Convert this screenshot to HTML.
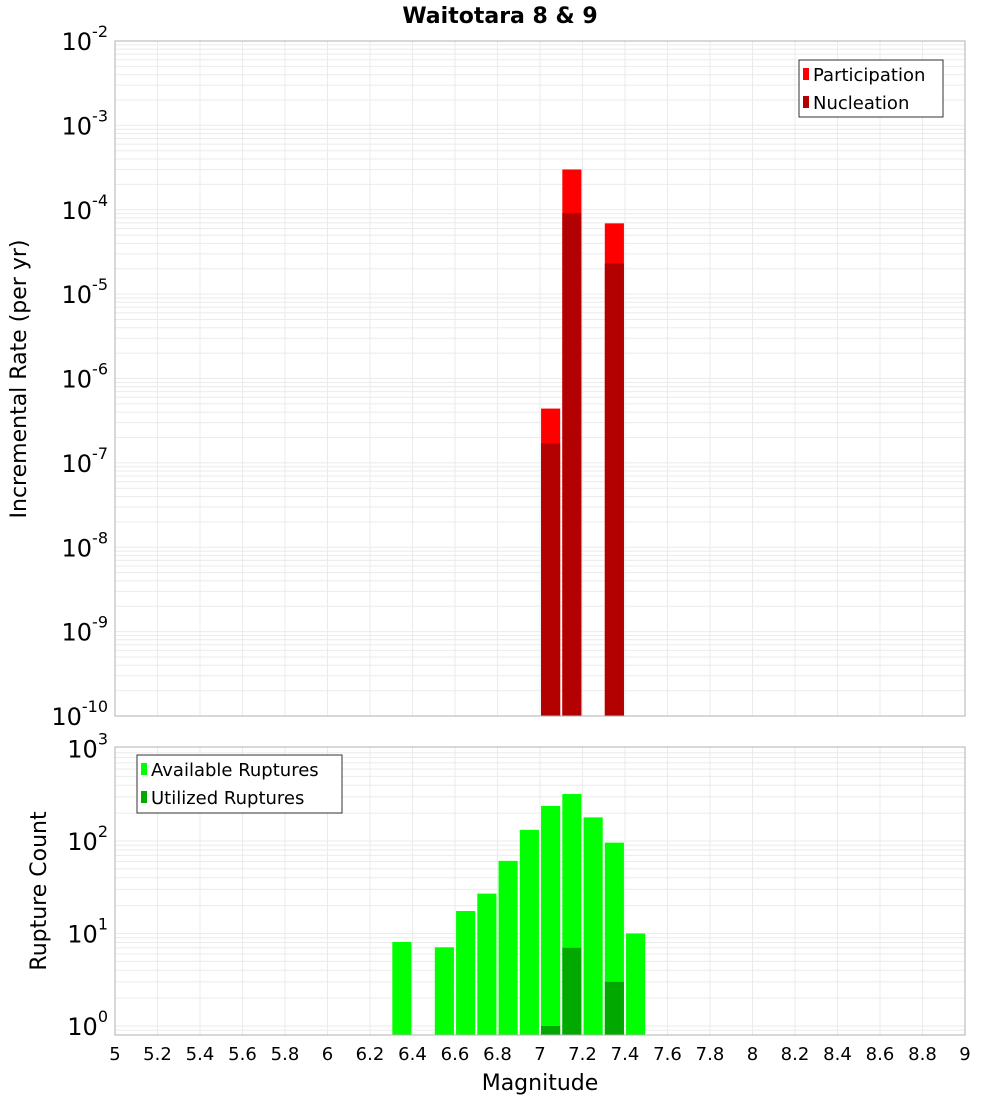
<!DOCTYPE html>
<html><head><meta charset="utf-8"><style>
body{margin:0;background:#fff;}
svg text{font-family:"DejaVu Sans","Liberation Sans",sans-serif;}
</style></head><body>
<svg id="chart" width="1000" height="1100" xmlns="http://www.w3.org/2000/svg"></svg>
<script>
const mags = [7.05, 7.15, 7.35];
const participation = [4.4e-7, 3.0e-4, 6.9e-5];
const nucleation = [1.7e-7, 9.1e-5, 2.3e-5];
const countMags = [6.35, 6.55, 6.65, 6.75, 6.85, 6.95, 7.05, 7.15, 7.25, 7.35, 7.45];
const available = [8.1, 7.1, 17.5, 27, 61, 132, 239, 322, 180, 96, 10];
const utilMags = [7.05, 7.15, 7.35];
const utilized = [1, 7, 3];
const xTicks = ["5","5.2","5.4","5.6","5.8","6","6.2","6.4","6.6","6.8","7","7.2","7.4","7.6","7.8","8","8.2","8.4","8.6","8.8","9"];
const topExps = [-2,-3,-4,-5,-6,-7,-8,-9,-10];
const botExps = [3,2,1,0];

const svg = document.getElementById('chart');
const NS = 'http://www.w3.org/2000/svg';
function mk(tag, attrs, parent){const e=document.createElementNS(NS,tag);for(const k in attrs)e.setAttribute(k,attrs[k]);(parent||svg).appendChild(e);return e;}
const L=115,R=965;
const x = m => L + (m-5)/4*(R-L);
const T1=41,B1=716; const yTop = v => T1 + (-2 - Math.log10(v))/8*(B1-T1);
const T2=747,B2=1035; const D2=92.5; const yBot = v => 1026 - Math.log10(v)*D2;

function panel(T,B,yf,lo,hi,name){
  const g=mk('g',{});
  
  
  for(let e=Math.floor(lo);e<hi;e++){for(let k=1;k<10;k++){const v=k*Math.pow(10,e);const yy=yf(v);if(yy<T-0.5||yy>B+0.5)continue;
    const ln=mk('line',{x1:L,x2:R,y1:yy,y2:yy,stroke:'#ebebeb','stroke-width':1},g);}}
  for(let i=0;i<xTicks.length;i++){const xx=x(+xTicks[i]);mk('line',{x1:xx,x2:xx,y1:T,y2:B,stroke:'#ebebeb','stroke-width':1},g);}
}
panel(T1,B1,yTop,-10,-2,'top');
panel(T2,B2,yBot,-1,3,'bottom');

const bw = 0.09/4*(R-L);
function bar(m,v,yf,B,color,name){const r=mk('rect',{x:x(m)-bw/2,y:yf(v),width:bw,height:B-yf(v),fill:color});
  }
mags.forEach((m,i)=>bar(m,participation[i],yTop,B1,'#ff0000','participation-bar'));
mags.forEach((m,i)=>bar(m,nucleation[i],yTop,B1,'#b30000','nucleation-bar'));
countMags.forEach((m,i)=>bar(m,available[i],yBot,B2,'#00ff00','available-bar'));
utilMags.forEach((m,i)=>bar(m,utilized[i],yBot,B2,'#00a800','utilized-bar'));

mk('rect',{x:L,y:T1,width:R-L,height:B1-T1,fill:'none',stroke:'#b0b0b0'});
mk('rect',{x:L,y:T2,width:R-L,height:B2-T2,fill:'none',stroke:'#b0b0b0'});

function ylab(exp,yy,name){const t=mk('text',{x:108,y:yy+9,'text-anchor':'end','font-size':24,fill:'#000'});
  
  t.innerHTML='10<tspan dy="-13" font-size="16">'+exp+'</tspan>';}
topExps.forEach(e=>ylab(e,yTop(Math.pow(10,e)),'top-y-tick'));
botExps.forEach(e=>ylab(e,yBot(Math.pow(10,e)),'bottom-y-tick'));
xTicks.forEach(s=>{const t=mk('text',{x:x(+s),y:1060,'text-anchor':'middle','font-size':18,fill:'#000'});
  t.textContent=s;});

function txt(s,a,name){const t=mk('text',a);t.textContent=s;return t;}
txt('Waitotara 8 & 9',{x:500,y:23,'text-anchor':'middle','font-size':22,'font-weight':'bold'},'chart-title');
txt('Incremental Rate (per yr)',{x:26,y:379,'text-anchor':'middle','font-size':22,transform:'rotate(-90 26 379)'},'top-y-axis-title');
txt('Rupture Count',{x:46,y:891,'text-anchor':'middle','font-size':22,transform:'rotate(-90 46 891)'},'bottom-y-axis-title');
txt('Magnitude',{x:540,y:1090,'text-anchor':'middle','font-size':22},'x-axis-title');

function legend(x0,y0,w,h,items,name){const g=mk('g',{});
  mk('rect',{x:x0,y:y0,width:w,height:h,fill:'#fff',stroke:'#333'},g);
  items.forEach((it,i)=>{const cy=y0+14+i*28;mk('rect',{x:x0+4,y:cy-6,width:6,height:12,fill:it[1]},g);
    const t=mk('text',{x:x0+14,y:cy+7,'font-size':18},g);t.textContent=it[0];});}
legend(799,60,144,57,[['Participation','#ff0000'],['Nucleation','#b30000']],'top-legend');
legend(137,755,205,58,[['Available Ruptures','#00ff00'],['Utilized Ruptures','#00a800']],'bottom-legend');
</script>
</body></html>
